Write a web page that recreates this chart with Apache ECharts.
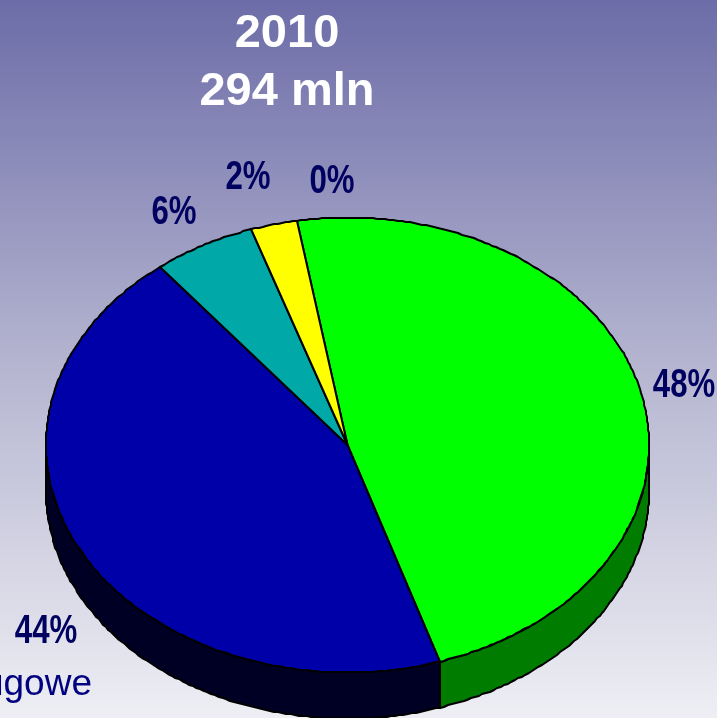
<!DOCTYPE html>
<html>
<head>
<meta charset="utf-8">
<title>2010</title>
<style>
  html, body { margin: 0; padding: 0; overflow: hidden; }
  #chart { width: 717px; height: 718px; }
</style>
<script src="https://cdn.jsdelivr.net/npm/echarts@6/dist/echarts.min.js"></script>
</head>
<body>
<div id="chart"></div>
<script>
// slices clockwise, starting from the yellow/green edge near the top
const shareNames = ['green', 'blue', 'teal', 'yellow', 'none'];
const shareValues = [47.7, 44.3, 5.5, 2.5, 0];
const shareLabels = ['48%', '44%', '6%', '2%', '0%'];
const topColors = ['#00ff00', '#0000a8', '#00a8a8', '#ffff00', '#ff0000'];
const sideColors = ['#007c00', '#000024', '#005050', '#808000', '#800000'];
const titleLines = ['2010', '294 mln'];
const legendLeftover = 'ugowe';

// layout of the tilted pie
const cx = 347.5, cy = 445, rx = 301.5, ry = 227.5, depth = 46;
const firstAngle = -9.6;
const labelSpots = [[684, 386], [46, 632], [174, 213], [248, 178], [332, 182]];

const total = shareValues.reduce((a, b) => a + b, 0);

function rimPoint(deg, drop) {
  const t = deg * Math.PI / 180;
  // the source outline is slightly stepped, so snap the rim to a small grid
  const x = cx + rx * Math.sin(t);
  const y = cy - ry * Math.cos(t) + (drop || 0);
  return [Math.round(x), Math.round(y)];
}

function arc(from, to, drop) {
  const pts = [];
  const n = Math.max(1, Math.ceil(Math.abs(to - from) / 0.8));
  for (let i = 0; i <= n; i++) pts.push(rimPoint(from + (to - from) * i / n, drop));
  return pts;
}

function renderSlice(params, api) {
  const i = params.dataIndex;
  let before = 0;
  for (let k = 0; k < i; k++) before += shareValues[k];
  const a0 = firstAngle + before / total * 360;
  const a1 = a0 + api.value(1) / total * 360;
  const children = [];

  if (a1 > a0) {
    // wall of the pie, only the part that faces the viewer
    const s0 = Math.max(a0, 90), s1 = Math.min(a1, 270);
    if (s1 > s0) {
      children.push({
        type: 'polygon',
        shape: { points: arc(s0, s1, 0).concat(arc(s1, s0, depth)) },
        style: { fill: sideColors[i], stroke: '#000', lineWidth: 2, lineJoin: 'round' }
      });
    }
    children.push({
      type: 'polygon',
      shape: { points: [[cx, cy]].concat(arc(a0, a1, 0)) },
      style: { fill: topColors[i], stroke: '#000', lineWidth: 2, lineJoin: 'round' }
    });
  }
  // no narrow bold font is installed, so squeeze the bold one sideways
  children.push({
    type: 'text',
    x: labelSpots[i][0],
    y: labelSpots[i][1],
    scaleX: 0.78,
    style: {
      text: shareLabels[i],
      align: 'center',
      verticalAlign: 'middle',
      fill: '#000060',
      font: "bold 40px 'Liberation Sans', Arial, sans-serif"
    }
  });
  return { type: 'group', children };
}

const myChart = echarts.init(document.getElementById('chart'));
myChart.setOption({
  animation: false,
  backgroundColor: new echarts.graphic.LinearGradient(0, 0, 0, 1, [
    { offset: 0, color: '#6c6ca8' },
    { offset: 0.5, color: '#b4b4d0' },
    { offset: 1, color: '#eeeef4' }
  ]),
  title: {
    text: titleLines.join('\n'),
    left: 282,
    top: 0,
    textAlign: 'center',
    textStyle: {
      color: '#ffffff',
      fontFamily: "'Liberation Sans', Arial, sans-serif",
      fontWeight: 'bold',
      fontSize: 47,
      lineHeight: 58
    }
  },
  graphic: [{
    type: 'text',
    right: 625,
    top: 666,
    style: {
      text: legendLeftover,
      fill: '#000080',
      font: "37px 'Liberation Sans', Arial, sans-serif"
    }
  }],
  series: [{
    type: 'custom',
    coordinateSystem: 'none',
    silent: true,
    clip: false,
    renderItem: renderSlice,
    data: shareValues.map((v, i) => [i, v])
  }]
});
window.addEventListener('resize', () => {
  myChart.resize();
});
</script>
</body>
</html>
